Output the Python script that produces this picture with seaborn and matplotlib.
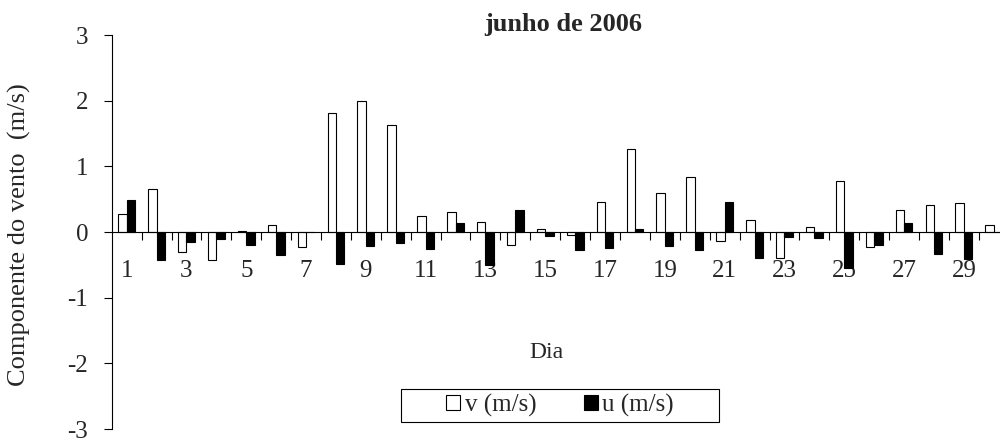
import numpy as np
import pandas as pd
import matplotlib
matplotlib.use("Agg")
import matplotlib.pyplot as plt
from matplotlib.patches import Patch, Rectangle
import seaborn as sns

# daily wind components, June 2006
dias = list(range(1, 31))
v_ms = [0.27, 0.65, -0.31, -0.43, 0.01, 0.10, -0.23, 1.81, 2.00, 1.63,
        0.25, 0.31, 0.15, -0.20, 0.05, -0.04, 0.45, 1.26, 0.59, 0.84,
        -0.13, 0.18, -0.39, 0.07, 0.77, -0.23, 0.34, 0.41, 0.44, 0.10]
u_ms = [0.49, -0.43, -0.15, -0.10, -0.20, -0.35, 0.00, -0.48, -0.22, -0.17,
        -0.26, 0.13, -0.50, 0.34, -0.06, -0.28, -0.24, 0.04, -0.22, -0.27,
        0.45, -0.40, -0.08, -0.09, -0.55, -0.19, 0.13, -0.34, -0.41, 0.00]
series = ["v (m/s)", "u (m/s)"]
y_ticks = [-3, -2, -1, 0, 1, 2, 3]

df = pd.DataFrame({
    "dia": dias * 2,
    "comp": [series[0]] * len(dias) + [series[1]] * len(dias),
    "valor": v_ms + u_ms,
})

sns.set_theme(style="white")
plt.rcParams["font.family"] = ["Liberation Serif", "DejaVu Serif"]
fs = 18

fig = plt.figure(figsize=(10, 4.38), dpi=100)
ax = fig.add_axes([0.1117, 0.0205, 0.897, 0.8995])

sns.barplot(data=df, x="dia", y="valor", hue="comp", hue_order=series,
            palette=["white", "black"], edgecolor="black", linewidth=0.8,
            width=0.56, legend=False, ax=ax)

# x axis sits on the zero line (do this before styling ticks)
ax.spines["bottom"].set_position(("data", 0))
for s in ["top", "right"]:
    ax.spines[s].set_visible(False)
for s in ["left", "bottom"]:
    ax.spines[s].set_color("black")
    ax.spines[s].set_linewidth(0.8)

ax.set_xlim(-0.5, len(dias) - 0.5)
ax.set_ylim(-3, 3)
ax.set_yticks(y_ticks)
ax.set_yticklabels([str(t) for t in y_ticks])

# category labels every other day, tick marks between categories
ax.set_xticks(range(len(dias)))
ax.set_xticklabels([str(d) if d % 2 == 1 else "" for d in dias])
ax.set_xticks(np.arange(0.5, len(dias) - 0.5, 1), minor=True)
ax.tick_params(axis="x", which="major", length=0, pad=20, labelsize=fs)
ax.tick_params(axis="x", which="minor", length=5.8, width=0.8,
               direction="out", color="black", bottom=True)
ax.tick_params(axis="y", length=5.8, width=0.8, direction="out",
               color="black", left=True, pad=11, labelsize=fs)

ax.set_xlabel("")
ax.set_ylabel("")
fig.text(0.546, 1 - 353 / 438, "Dia", ha="center", va="center", fontsize=fs - 1)
fig.text(0.019, 1 - 235 / 438, "Componente do vento  (m/s)", rotation=90,
         ha="center", va="center", fontsize=fs + 1)
fig.text(0.563, 1 - 24 / 438, "junho de 2006", ha="center", va="center",
         fontsize=fs + 1, fontweight="bold")

handles = [Patch(facecolor="white", edgecolor="black", linewidth=0.8),
           Patch(facecolor="black", edgecolor="black", linewidth=0.8)]
fig.legend(handles, series, loc="center", bbox_to_anchor=(0.56, 1 - 405.5 / 438),
           ncol=2, frameon=False, fontsize=fs, handlelength=0.55,
           handleheight=0.55, handletextpad=0.2, columnspacing=1.9)
fig.patches.append(Rectangle((0.401, 1 - 422 / 438), 0.318, 33 / 438,
                             transform=fig.transFigure, fill=False,
                             edgecolor="black", linewidth=0.8))

fig.savefig("out.png", dpi=100)
